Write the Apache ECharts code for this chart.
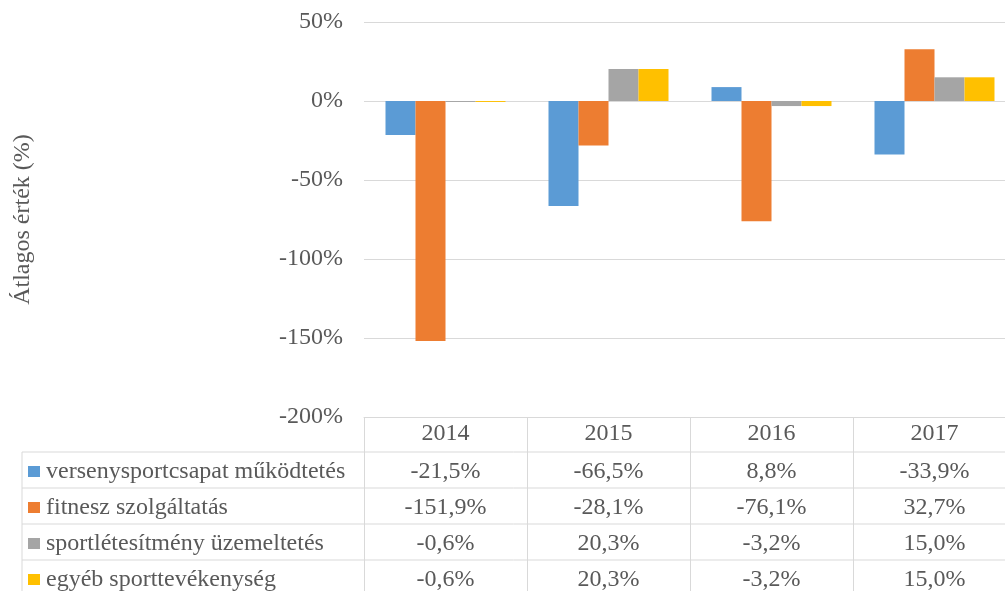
<!DOCTYPE html>
<html>
<head>
<meta charset="utf-8">
<script src="https://cdn.jsdelivr.net/npm/echarts@6/dist/echarts.min.js"></script>
<style>
  html, body { margin: 0; padding: 0; background: #fff; overflow: hidden; }
  #chart { width: 1005px; height: 591px; }
</style>
</head>
<body>
<div id="chart"></div>
<script>
const years = ['2014', '2015', '2016', '2017']
const seriesNames = [
  'versenysportcsapat működtetés',
  'fitnesz szolgáltatás',
  'sportlétesítmény üzemeltetés',
  'egyéb sporttevékenység'
]
const versenysport = [-21.5, -66.5, 8.8, -33.9]
const fitnesz = [-151.9, -28.1, -76.1, 32.7]
const letesitmeny = [-0.6, 20.3, -3.2, 15.0]
const egyeb = [-0.6, 20.3, -3.2, 15.0]
const yTicks = [-200, -150, -100, -50, 0, 50]

const colors = ['#5B9BD5', '#ED7D31', '#A5A5A5', '#FFC000']
const font = '"Liberation Serif", "Times New Roman", serif'
const fontSize = 24
const textColor = '#595959'
const lineColor = '#d9d9d9'

const allData = [versenysport, fitnesz, letesitmeny, egyeb]
const fmt = v => v.toFixed(1).replace('.', ',') + '%'

const chart = echarts.init(document.getElementById('chart'))

chart.setOption({
  animation: false,
  color: colors,
  // plot runs past the right edge of the picture, like the cropped original
  grid: { left: 364, width: 652, top: 22, bottom: 174, outerBoundsMode: 'none', containLabel: false },
  xAxis: {
    type: 'category',
    data: years,
    position: 'bottom',
    axisLine: { onZero: false, lineStyle: { color: lineColor, width: 1 } },
    axisTick: { show: true, length: 180, lineStyle: { color: lineColor, width: 1 } },
    axisLabel: { color: textColor, fontFamily: font, fontSize: fontSize, margin: 5 }
  },
  yAxis: {
    type: 'value',
    min: yTicks[0],
    max: yTicks[yTicks.length - 1],
    interval: 50,
    name: 'Átlagos érték (%)',
    nameLocation: 'middle',
    nameGap: 329,
    nameTextStyle: { color: textColor, fontFamily: font, fontSize: fontSize },
    axisLine: { show: false },
    axisTick: { show: false },
    axisLabel: { color: textColor, fontFamily: font, fontSize: fontSize, margin: 21, formatter: v => v + '%' },
    splitLine: { lineStyle: { color: lineColor, width: 1 } }
  },
  series: seriesNames.map((name, i) => ({
    name: name,
    type: 'bar',
    data: allData[i],
    barWidth: 30,
    barGap: '0%'
  }))
})

// data table below the plot
const rowTop = 452
const rowH = 36
const tableLeft = 22
const graphics = []

for (let r = 0; r <= 4; r++) {
  graphics.push({
    type: 'line',
    shape: { x1: tableLeft, y1: rowTop + r * rowH, x2: 1005, y2: rowTop + r * rowH },
    style: { stroke: lineColor, lineWidth: 1 }
  })
}
graphics.push({
  type: 'line',
  shape: { x1: tableLeft, y1: rowTop, x2: tableLeft, y2: 591 },
  style: { stroke: lineColor, lineWidth: 1 }
})

seriesNames.forEach((name, r) => {
  const cy = rowTop + r * rowH + rowH / 2 + 2
  graphics.push({
    type: 'rect',
    shape: { x: 28, y: cy - 6, width: 12, height: 11 },
    style: { fill: colors[r] }
  })
  graphics.push({
    type: 'text',
    x: 46,
    y: cy,
    style: { text: name, fill: textColor, font: fontSize + 'px ' + font, textVerticalAlign: 'middle' }
  })
  years.forEach((yr, c) => {
    const cx = chart.convertToPixel({ xAxisIndex: 0 }, yr)
    graphics.push({
      type: 'text',
      x: cx,
      y: cy,
      style: { text: fmt(allData[r][c]), fill: textColor, font: fontSize + 'px ' + font, textAlign: 'center', textVerticalAlign: 'middle' }
    })
  })
})

chart.setOption({ graphic: graphics })
</script>
</body>
</html>
